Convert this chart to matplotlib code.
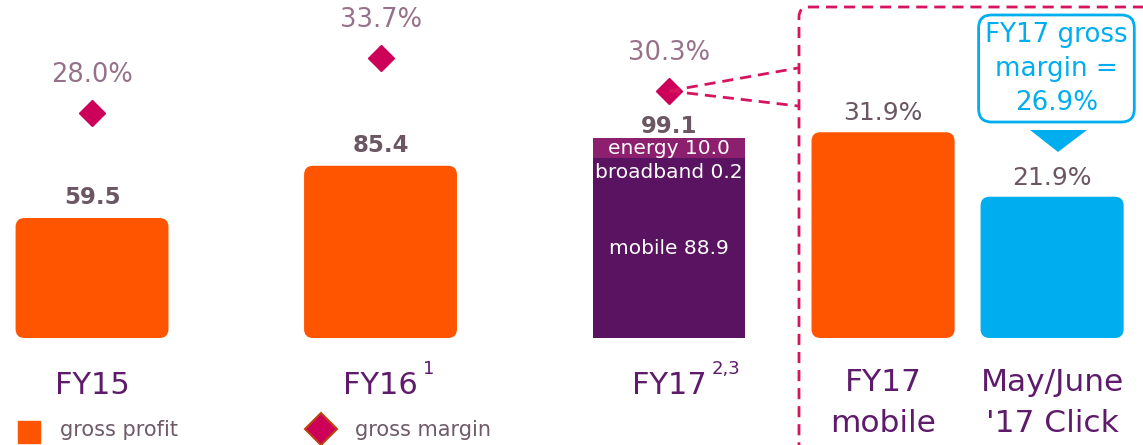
import matplotlib.pyplot as plt
from matplotlib.patches import FancyBboxPatch, Polygon
from matplotlib.lines import Line2D
from matplotlib.transforms import blended_transform_factory

plt.rcParams['font.family'] = ['DejaVu Sans']

# data
years = ['FY15', 'FY16', 'FY17']
year_sup = ['', '1', '2,3']
gross_profit = [59.5, 85.4, 99.1]
gross_margin = [28.0, 33.7, 30.3]
fy17_parts = ['mobile', 'broadband', 'energy']
fy17_values = [88.9, 0.2, 10.0]
compare_labels = ['FY17\nmobile', "May/June\n'17 Click"]
compare_margin = [31.9, 21.9]
click_fy17_margin = 26.9

# colours
ORANGE = '#FF5500'
PURPLE = '#5A1360'
ENERGY = '#8C1F6E'
BLUE = '#00AEEF'
MAGENTA = '#CC0058'
DASH = '#D6145F'
NUM_C = '#6B5663'
PCT_C = '#957289'
CAT_C = '#5E1A6B'

W, H = 1143, 445
fig = plt.figure(figsize=(W / 100, H / 100), dpi=100)
ax = fig.add_axes([0, 0, 1, 1])
axm = ax.twinx()
axr = ax.twinx()
for a in (ax, axm, axr):
    a.axis('off')
    a.set_xlim(-0.319, 3.643)
ax.set_ylim(-53.05, 167.6)
axm.set_ylim(-6.58, 39.77)
axr.set_ylim(-16.59, 52.40)


def rounded(a, bars, r_px=9):
    p0 = a.transData.transform((0, 0))
    p1 = a.transData.transform((1, 1))
    sx, sy = p1[0] - p0[0], p1[1] - p0[1]
    for b in bars:
        x0, y0 = b.get_xy()
        w, h = b.get_width(), b.get_height()
        fc = b.get_facecolor()
        b.remove()
        a.add_patch(FancyBboxPatch((x0, y0), w, h,
                                   boxstyle=f'round,pad=0,rounding_size={r_px / sx}',
                                   mutation_aspect=sx / sy, fc=fc, ec='none'))


def px(x, y):
    return (x / W, 1 - y / H)


x = list(range(len(years)))
bw = 0.53

# gross profit bars FY15/FY16 (rounded), FY17 stacked
b = ax.bar(x[:2], gross_profit[:2], width=bw, color=ORANGE)
rounded(ax, b)

part_colors = [PURPLE, PURPLE, ENERGY]
bottom = 0
for name, v, c in zip(fy17_parts, fy17_values, part_colors):
    ax.bar(x[2], v, bottom=bottom, width=bw, color=c)
    bottom += v

# segment labels
seg_font = dict(color='white', fontsize=14.5, ha='center')
ax.text(x[2], fy17_values[0] + fy17_values[1] + fy17_values[2] / 2,
        f'{fy17_parts[2]} {fy17_values[2]:.1f}', va='center', **seg_font)
ax.annotate(f'{fy17_parts[1]} {fy17_values[1]:.1f}', (x[2], fy17_values[0]),
            xytext=(0, -3), textcoords='offset points', va='top', **seg_font)
ax.text(x[2], fy17_values[0] / 2, f'{fy17_parts[0]} {fy17_values[0]:.1f}',
        va='center', **seg_font)

# totals
offs = [10, 10, 3.5]
for xi, v, o in zip(x, gross_profit, offs):
    ax.annotate(f'{v:.1f}', (xi, v), xytext=(0, o), textcoords='offset points',
                ha='center', va='baseline', fontsize=16.5, fontweight='bold', color=NUM_C)

# margin diamonds
axm.plot(x, gross_margin, ls='none', marker='D', ms=13, color=MAGENTA, zorder=5)
for xi, m in zip(x, gross_margin):
    axm.annotate(f'{m:.1f}%', (xi, m), xytext=(0, 27.5), textcoords='offset points',
                 ha='center', va='center', fontsize=18.5, color=PCT_C)

# comparison bars
xr = [2.742, 3.328]
rb = axr.bar(xr, compare_margin, width=0.496, color=[ORANGE, BLUE])
rounded(axr, rb)
for xi, m in zip(xr, compare_margin):
    axr.annotate(f'{m:.1f}%', (xi, m), xytext=(0, 8.5), textcoords='offset points',
                 ha='center', va='baseline', fontsize=18, color=NUM_C)

# category labels
tr = blended_transform_factory(ax.transData, ax.transAxes)
for xi, lab, sup in zip(x, years, year_sup):
    t = ax.text(xi, 51 / H, lab, transform=tr, ha='center', va='baseline',
                fontsize=22, color=CAT_C)
    if sup:
        ax.annotate(sup, xy=(1, 1), xycoords=t, xytext=(4, 8), textcoords='offset points',
                    ha='left', va='top', fontsize=13, color=CAT_C)
for xi, lab in zip(xr, compare_labels):
    ax.text(xi, 1 - 368 / H, lab, transform=tr, ha='center', va='top',
            fontsize=22.5, color=CAT_C, linespacing=1.52)

# callout
ax.text(3.343, 1 - 68.5 / H,
        f'FY17 gross\nmargin =\n{click_fy17_margin:.1f}%', transform=tr,
        ha='center', va='center', fontsize=18.8, color=BLUE, linespacing=1.4,
        bbox=dict(boxstyle='round,pad=0.25,rounding_size=0.5', fc='white', ec=BLUE, lw=2))
fig.add_artist(Polygon([px(1030, 130), px(1087, 130), px(1058, 152)],
                       closed=True, fc=BLUE, ec='none', transform=fig.transFigure))

# dashed box & connectors
fig.add_artist(FancyBboxPatch(px(799, 470), (W + 30 - 799) / W, (470 - 7) / H,
                              boxstyle=f'round,pad=0,rounding_size={10 / W}',
                              mutation_aspect=W / H, fc='none', ec=DASH, lw=2,
                              ls=(0, (4, 2.5)), transform=fig.transFigure))
d = fig.transFigure.inverted().transform(axm.transData.transform((x[2], gross_margin[2])))
for ey in (68, 106):
    e = px(798, ey)
    fig.add_artist(Line2D([d[0], e[0]], [d[1], e[1]], color=DASH, lw=2,
                          ls=(0, (4, 2.5)), transform=fig.transFigure, zorder=1))

# legend
fig.add_artist(Line2D([px(28.5, 0)[0]], [px(0, 431.5)[1]], marker='s', ms=16.5,
                      color=ORANGE, ls='none', transform=fig.transFigure))
fig.add_artist(Line2D([px(321, 0)[0]], [px(0, 429)[1]], marker='D', ms=16,
                      mfc=MAGENTA, mec='#C04010', mew=1.5, ls='none',
                      transform=fig.transFigure))
fig.text(*px(60, 430), 'gross profit', fontsize=15, color='#6E5A68', va='center')
fig.text(*px(355, 430), 'gross margin', fontsize=15, color='#6E5A68', va='center')

fig.savefig('out.png', dpi=100)
